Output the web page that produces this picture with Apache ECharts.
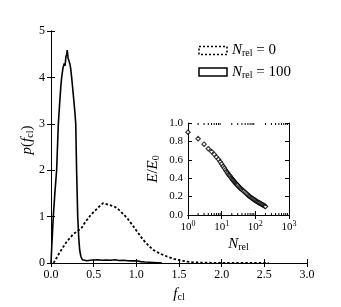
<!DOCTYPE html>
<html><head><meta charset="utf-8">
<script src="https://cdn.jsdelivr.net/npm/echarts@6/dist/echarts.min.js"></script>
<style>html,body{margin:0;padding:0;background:#fff}#c{width:341px;height:307px}</style>
</head><body><div id="c"></div>
<script>
// ---- data ----
const solidX = [0, 0.01, 0.027, 0.045, 0.066, 0.076, 0.086, 0.1, 0.115, 0.125, 0.14, 0.155, 0.165, 0.175, 0.185, 0.19, 0.2, 0.21, 0.22, 0.23, 0.242, 0.255, 0.27, 0.28, 0.29, 0.3, 0.313, 0.325, 0.336, 0.35, 0.367, 0.39, 0.42, 0.46, 0.5, 0.55, 0.6, 0.65, 0.7, 0.75, 0.8, 0.85, 0.9, 0.95, 1.0, 1.05, 1.1, 1.2, 1.3];
const solidY = [0, 0.4, 1.0, 1.5, 2.0, 2.5, 3.0, 3.4, 3.8, 4.0, 4.2, 4.3, 4.25, 4.45, 4.5, 4.59, 4.42, 4.38, 4.3, 4.2, 4.0, 3.75, 3.45, 3.25, 3.0, 2.0, 1.0, 0.55, 0.28, 0.14, 0.07, 0.05, 0.05, 0.06, 0.065, 0.07, 0.06, 0.065, 0.06, 0.07, 0.055, 0.06, 0.05, 0.045, 0.05, 0.03, 0.02, 0.01, 0.0];
const dotX = [0.03, 0.1, 0.18, 0.26, 0.32, 0.36, 0.4, 0.46, 0.5, 0.55, 0.61, 0.65, 0.7, 0.75, 0.8, 0.85, 0.9, 0.965, 1.02, 1.08, 1.14, 1.2, 1.28, 1.36, 1.44, 1.51, 1.6, 1.67, 1.8, 2.0, 2.3, 2.55];
const dotY = [0, 0.22, 0.45, 0.62, 0.7, 0.76, 0.88, 1.02, 1.1, 1.19, 1.29, 1.27, 1.24, 1.21, 1.14, 1.05, 0.95, 0.79, 0.65, 0.5, 0.38, 0.28, 0.2, 0.14, 0.09, 0.057, 0.03, 0.015, 0.006, 0.003, 0.001, 0];
const insetN = [1, 2, 3, 4, 5, 6, 7, 8, 9, 10, 11, 12, 13, 14, 15, 16, 17, 18, 19, 20, 21, 22, 23, 24, 25, 26, 27, 28, 29, 30, 32, 34, 36, 38, 40, 43, 46, 50, 54, 58, 62, 66, 70, 75, 80, 85, 90, 95, 100, 106, 112, 118, 125, 132, 140, 148, 156, 165, 174, 184, 194, 200];
const insetE = [0.90, 0.83, 0.77, 0.72, 0.69, 0.66, 0.63, 0.605, 0.58, 0.555, 0.53, 0.51, 0.49, 0.472, 0.456, 0.44, 0.43, 0.42, 0.407, 0.395, 0.386, 0.377, 0.368, 0.36, 0.353, 0.346, 0.339, 0.333, 0.327, 0.321, 0.31, 0.3, 0.292, 0.284, 0.277, 0.266, 0.257, 0.245, 0.234, 0.223, 0.213, 0.205, 0.198, 0.19, 0.182, 0.176, 0.169, 0.163, 0.158, 0.152, 0.146, 0.141, 0.136, 0.131, 0.126, 0.121, 0.116, 0.111, 0.106, 0.1, 0.095, 0.092];
const mainXTicks = [0, 0.5, 1.0, 1.5, 2.0, 2.5, 3.0];
const mainYTicks = [0, 1, 2, 3, 4, 5];
const insetYTicks = [0.0, 0.2, 0.4, 0.6, 0.8, 1.0];
const insetMinor = [2,3,4,5,6,7,8,9,20,30,40,50,60,70,80,90,200,300,400,500,600,700,800,900];

const SERIF = '"Liberation Serif","DejaVu Serif",serif';
const tickInside = (len) => ({show: true, inside: true, length: len, lineStyle: {color: '#000', width: 1}});
const axLine = {show: true, lineStyle: {color: '#000', width: 1}};
const subRich = {
  it: {fontFamily: SERIF, fontStyle: 'italic', fontSize: 15, color: '#000'},
  rm: {fontFamily: SERIF, fontSize: 15, color: '#000'},
  sub: {fontFamily: SERIF, fontSize: 10, color: '#000', verticalAlign: 'bottom', padding: [6, 0, 0, 0]}
};

const chart = echarts.init(document.getElementById('c'), null, {renderer: 'canvas'});
chart.setOption({
  animation: false,
  backgroundColor: '#fff',
  grid: [
    {left: 51, top: 31, width: 256, height: 236, show: false},
    {left: 188, top: 123, width: 101, height: 92, show: true, backgroundColor: '#fff', borderWidth: 0}
  ],
  legend: {
    right: 45, top: 38, orient: 'vertical', itemWidth: 28, itemHeight: 8, itemGap: 6, icon: 'rect',
    selectedMode: false,
    formatter: (n) => n === 'N0' ? '{it|N}{sub|rel}{rm| = 0}' : '{it|N}{sub|rel}{rm| = 100}',
    textStyle: {rich: subRich},
    data: [
      {name: 'N0', itemStyle: {color: '#fff', borderColor: '#000', borderWidth: 1.5, borderType: [2, 2]}},
      {name: 'N100', itemStyle: {color: '#fff', borderColor: '#000', borderWidth: 1.5, borderType: 'solid'}}
    ]
  },
  xAxis: [
    {gridIndex: 0, type: 'value', min: 0, max: 3, interval: 0.5, position: 'bottom',
     axisLine: axLine, axisTick: tickInside(4), splitLine: {show: false},
     axisLabel: {fontFamily: SERIF, fontSize: 12, color: '#000', margin: 6, formatter: v => v.toFixed(1)},
     name: '{it|f}{sub|cl}', nameLocation: 'middle', nameGap: 23, nameTextStyle: {rich: subRich}},
    {gridIndex: 0, type: 'value', min: 0, max: 3, interval: 0.5, position: 'top',
     axisLine: axLine, axisTick: tickInside(4), axisLabel: {show: false}, splitLine: {show: false}},
    {gridIndex: 1, type: 'log', logBase: 10, min: 1, max: 1000, position: 'bottom',
     axisLine: axLine, axisTick: tickInside(4), splitLine: {show: false}, minorTick: {show: false},
     axisLabel: {fontFamily: SERIF, fontSize: 11, color: '#000', margin: 5,
       formatter: v => '{b|10}{sup|' + Math.round(Math.log10(v)) + '}',
       rich: {b: {fontFamily: SERIF, fontSize: 11, color: '#000'},
              sup: {fontFamily: SERIF, fontSize: 8, color: '#000', verticalAlign: 'top', padding: [0, 0, 6, 0]}}},
     name: '{it|N}{sub|rel}', nameLocation: 'middle', nameGap: 21, nameTextStyle: {rich: subRich}},
    {gridIndex: 1, type: 'log', logBase: 10, min: 1, max: 1000, position: 'top',
     axisLine: axLine, axisTick: tickInside(4), axisLabel: {show: false}, splitLine: {show: false}}
  ],
  yAxis: [
    {gridIndex: 0, type: 'value', min: 0, max: 5, interval: 1, position: 'left',
     axisLine: axLine, axisTick: tickInside(4), splitLine: {show: false},
     axisLabel: {fontFamily: SERIF, fontSize: 12, color: '#000', margin: 6},
     name: '{it|p}{rm|(}{it|f}{sub|cl}{rm|)}', nameLocation: 'middle', nameGap: 16, nameRotate: 90,
     nameMoveOverlap: false,
     nameTextStyle: {rich: subRich, padding: [0, 0, 0, 14]}},
    {gridIndex: 0, type: 'value', min: 0, max: 5, interval: 1, position: 'right',
     axisLine: axLine, axisTick: tickInside(4), axisLabel: {show: false}, splitLine: {show: false}},
    {gridIndex: 1, type: 'value', min: 0, max: 1, interval: 0.2, position: 'left',
     axisLine: axLine, axisTick: tickInside(4), splitLine: {show: false},
     axisLabel: {fontFamily: SERIF, fontSize: 11, color: '#000', margin: 5, formatter: v => v.toFixed(1)},
     name: '{it|E}{rm|/}{it|E}{sub|0}', nameLocation: 'middle', nameGap: 27, nameRotate: 90,
     nameTextStyle: {rich: subRich}},
    {gridIndex: 1, type: 'value', min: 0, max: 1, interval: 0.2, position: 'right',
     axisLine: axLine, axisTick: tickInside(4), axisLabel: {show: false}, splitLine: {show: false}}
  ],
  series: [
    {name: 'N0', type: 'line', xAxisIndex: 0, yAxisIndex: 0, showSymbol: false, symbol: 'none',
     lineStyle: {color: '#000', width: 1.8, type: [2.5, 2]},
     data: dotX.map((x, i) => [x, dotY[i]])},
    {name: 'N100', type: 'line', xAxisIndex: 0, yAxisIndex: 0, showSymbol: false, symbol: 'none',
     lineStyle: {color: '#000', width: 1.6},
     data: solidX.map((x, i) => [x, solidY[i]])},
    {type: 'scatter', xAxisIndex: 2, yAxisIndex: 2, symbol: 'diamond', symbolSize: [4.5, 4.5], clip: true,
     itemStyle: {color: '#fff', borderColor: '#000', borderWidth: 1.1},
     data: insetN.map((n, i) => [n, insetE[i]]), z: 5},
    {type: 'custom', xAxisIndex: 2, yAxisIndex: 2, silent: true, z: 6,
     data: insetMinor.map(v => [v]),
     renderItem: (params, api) => {
       const b = api.coord([api.value(0), 0]);
       const t = api.coord([api.value(0), 1]);
       return {type: 'group', children: [
         {type: 'line', shape: {x1: b[0], y1: b[1], x2: b[0], y2: b[1] - 2}, style: {stroke: '#000', lineWidth: 1}},
         {type: 'line', shape: {x1: t[0], y1: t[1], x2: t[0], y2: t[1] + 2}, style: {stroke: '#000', lineWidth: 1}}
       ]};
     }}
  ]
});
</script></body></html>
